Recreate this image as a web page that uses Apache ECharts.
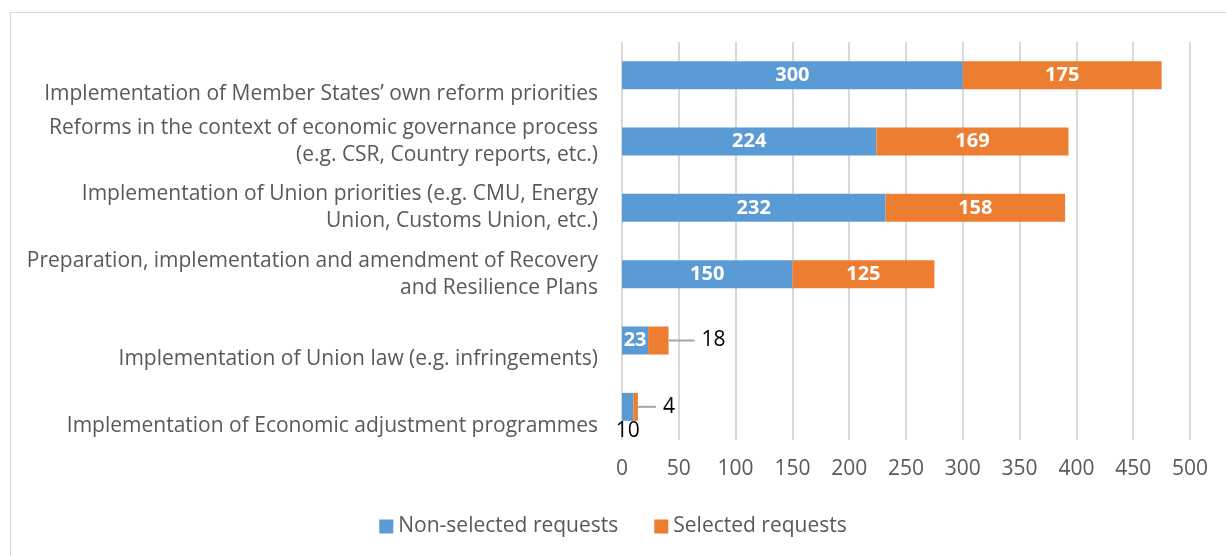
<!DOCTYPE html>
<html>
<head>
<meta charset="UTF-8">
<title>Requests by area</title>
<script src="https://cdn.jsdelivr.net/npm/echarts@6/dist/echarts.min.js"></script>
<style>
  html, body { margin: 0; padding: 0; background: #fff; }
  #frame { position: absolute; left: 10px; top: 12px; width: 1230px; height: 560px; border: 1px solid #d9d9d9; box-sizing: border-box; }
  #chart { position: absolute; left: 0; top: 0; width: 1226px; height: 556px; }
</style>
</head>
<body>
<div id="frame"></div>
<div id="chart"></div>
<script>
var categories = [
  'Implementation of Member States\u2019 own reform priorities',
  'Reforms in the context of economic governance process\n(e.g. CSR, Country reports, etc.)',
  'Implementation of Union priorities (e.g. CMU, Energy\nUnion, Customs Union, etc.)',
  'Preparation, implementation and amendment of Recovery\nand Resilience Plans',
  'Implementation of Union law (e.g. infringements)',
  'Implementation of Economic adjustment programmes'
];
var nonSelected = [300, 224, 232, 150, 23, 10];
var selected = [175, 169, 158, 125, 18, 4];
var seriesNames = ['Non-selected requests', 'Selected requests'];

var FONT = '"Open Sans", "Noto Sans", sans-serif';
var insideLabel = { show: true, position: 'inside', color: '#fff', fontWeight: 'bold', fontSize: 20, fontFamily: FONT };

// small values get their labels outside the bar, like the original
function blueData() {
  return nonSelected.map(function (v) {
    if (v < 15) {
      return { value: v, label: { show: true, position: 'bottom', distance: 0, color: '#000', fontWeight: 'normal', fontSize: 21, fontFamily: FONT } };
    }
    return v;
  });
}
function orangeData() {
  return selected.map(function (v) {
    if (v < 50) {
      var w = v < 10 ? 18 : 26;
      return {
        value: v,
        label: {
          show: true, position: 'right', distance: 0, fontWeight: 'normal',
          formatter: '{ln|}{v|' + v + '}',
          rich: {
            ln: { width: w, height: 2, backgroundColor: '#a6a6a6' },
            v: { color: '#000', fontSize: 21, fontWeight: 'normal', fontFamily: FONT, padding: [0, 0, 0, 7] }
          }
        }
      };
    }
    return v;
  });
}

// one-line categories sit a bit below their bar in the original
function categoryLabel(text) {
  if (text.indexOf('\n') < 0) return '{gap| }\n{t|' + text + '}';
  return text;
}

var chart = echarts.init(document.getElementById('chart'));
chart.setOption({
  animation: false,
  color: ['#5b9bd5', '#ed7d31'],
  grid: { left: 622, right: 36, top: 42, bottom: 116, containLabel: false },
  legend: {
    bottom: 14, left: 'center',
    itemWidth: 14, itemHeight: 14, itemGap: 36,
    icon: 'rect',
    textStyle: { color: '#595959', fontSize: 21, fontFamily: FONT },
    data: seriesNames
  },
  xAxis: {
    type: 'value', min: 0, max: 500, interval: 50,
    axisLine: { show: false }, axisTick: { show: false },
    splitLine: { lineStyle: { color: '#d9d9d9', width: 2 } },
    axisLabel: { color: '#595959', fontSize: 21, fontFamily: FONT, margin: 19 }
  },
  yAxis: {
    type: 'category', inverse: true, data: categories,
    axisLine: { show: false }, axisTick: { show: false },
    axisLabel: {
      interval: 0, hideOverlap: false,
      color: '#595959', fontSize: 21, fontFamily: FONT, margin: 24, align: 'right', lineHeight: 27,
      formatter: categoryLabel,
      rich: {
        gap: { fontSize: 21, lineHeight: 38 },
        t: { color: '#595959', fontSize: 21, fontFamily: FONT, lineHeight: 27 }
      }
    }
  },
  series: [
    { name: seriesNames[0], type: 'bar', stack: 'total', barWidth: 28, label: insideLabel, data: blueData() },
    { name: seriesNames[1], type: 'bar', stack: 'total', barWidth: 28, label: insideLabel, data: orangeData() }
  ]
});
</script>
</body>
</html>
